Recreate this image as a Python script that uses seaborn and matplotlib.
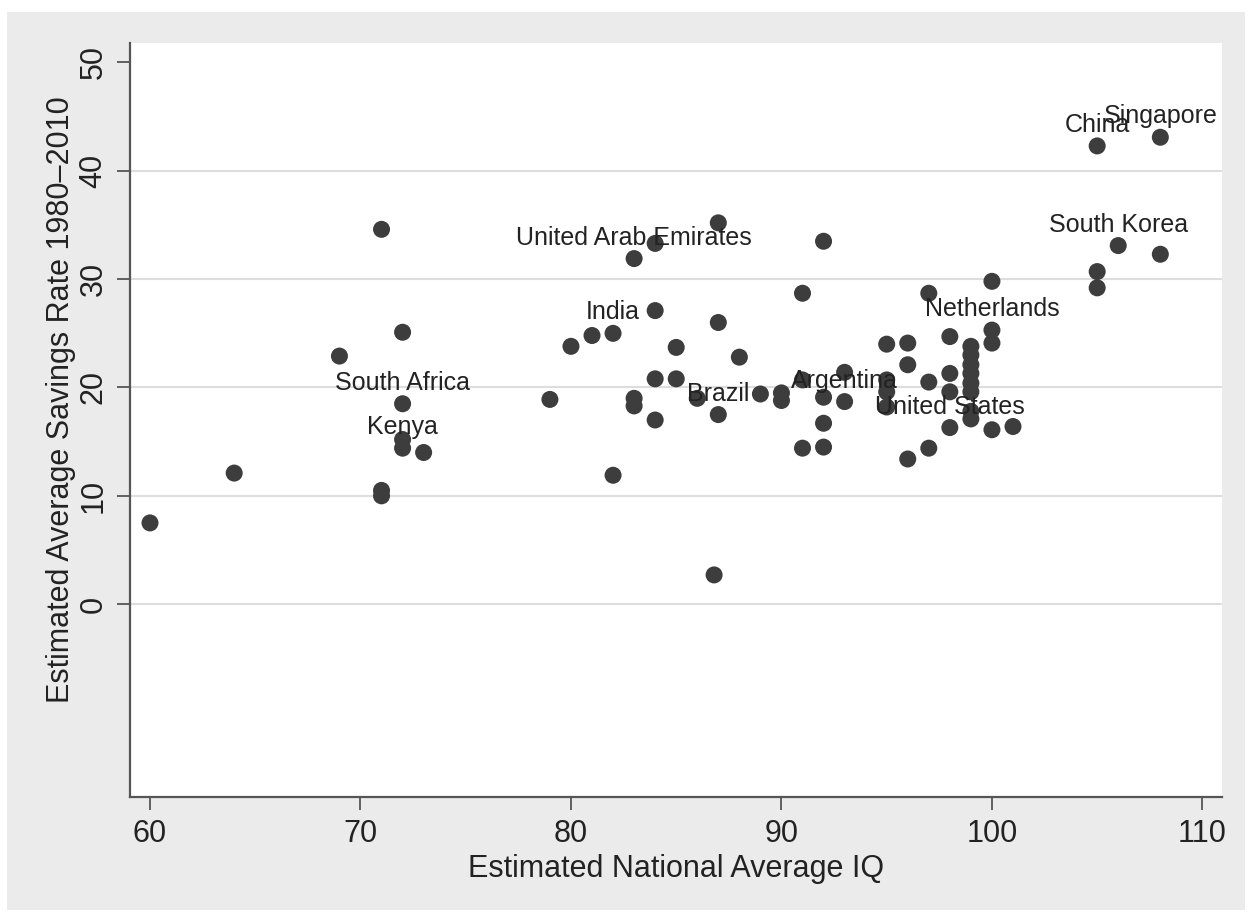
import matplotlib
matplotlib.use("Agg")
import matplotlib.pyplot as plt
import seaborn as sns
import pandas as pd
from matplotlib.patches import Rectangle

# --- dados ---
iq = [60, 64, 69, 71, 71, 71, 72, 72, 72, 72, 73,
      79, 80, 81, 82, 82, 83, 83, 83, 84, 84, 84, 84,
      85, 85, 86, 86.8, 87, 87, 87, 88, 89, 90, 90,
      91, 91, 91, 92, 92, 92, 92, 93, 93,
      95, 95, 95, 95, 96, 96, 96, 97, 97, 97,
      98, 98, 98, 98,
      99, 99, 99, 99, 99, 99, 99, 99,
      100, 100, 100, 100, 101,
      105, 105, 105, 106, 108, 108]
savings = [7.5, 12.1, 22.9, 34.6, 10.5, 10.0, 25.1, 18.5, 15.2, 14.4, 14.0,
           18.9, 23.8, 24.8, 25.0, 11.9, 31.9, 19.0, 18.3, 33.3, 27.1, 20.8, 17.0,
           23.7, 20.8, 19.0, 2.7, 35.2, 26.0, 17.5, 22.8, 19.4, 19.5, 18.8,
           20.7, 28.7, 14.4, 33.5, 19.1, 16.7, 14.5, 21.4, 18.7,
           24.0, 20.7, 19.6, 18.2, 24.1, 22.1, 13.4, 28.7, 20.5, 14.4,
           24.7, 21.3, 19.6, 16.3,
           23.8, 23.0, 22.1, 21.3, 20.4, 19.6, 17.8, 17.1,
           29.8, 25.3, 24.1, 16.1, 16.4,
           42.3, 30.7, 29.2, 33.1, 43.1, 32.3]

label_names = ["Singapore", "China", "South Korea", "Netherlands", "United States",
               "Argentina", "Brazil", "India", "United Arab Emirates",
               "South Africa", "Kenya"]
label_iq = [108, 105, 106, 100, 98, 93, 87, 82, 83, 72, 72]
label_savings = [43.1, 42.3, 33.1, 25.3, 16.3, 18.7, 17.5, 25.0, 31.9, 18.5, 14.4]

y_ticks = [0, 10, 20, 30, 40, 50]
x_ticks = [60, 70, 80, 90, 100, 110]

df = pd.DataFrame({"iq": iq, "savings": savings})

sns.set_theme(style="white")
plt.rcParams["font.family"] = ["Liberation Sans", "DejaVu Sans"]

fig = plt.figure(figsize=(12.5, 9.15), dpi=100)
fig.patch.set_facecolor("white")
fig.patches.append(Rectangle((7 / 1250, 1 - 910 / 915), (1245 - 7) / 1250, (910 - 12) / 915,
                             transform=fig.transFigure, facecolor="#ebebeb",
                             edgecolor="none", zorder=-10))
ax = fig.add_axes([130 / 1250, 1 - 797 / 915, (1222 - 130) / 1250, (797 - 43) / 915])
ax.set_facecolor("white")

sns.scatterplot(data=df, x="iq", y="savings", ax=ax, color="#3d3d3d",
                s=150, edgecolor="none", linewidth=0, zorder=3)

# rótulos dos países (acima do ponto, como no Stata)
for name, xv, yv in zip(label_names, label_iq, label_savings):
    ax.annotate(name, (xv, yv), xytext=(0, 15), textcoords="offset points",
                ha="center", va="center", fontsize=18, color="#222222", zorder=4)

ax.set_xlim(59.05, 110.93)
ax.set_ylim(-17.8, 51.8)
ax.set_xticks(x_ticks)
ax.set_yticks(y_ticks)
for g in y_ticks[:-1]:
    ax.axhline(g, color="#dddddd", linewidth=1.5, zorder=1)

for side in ["top", "right"]:
    ax.spines[side].set_visible(False)
for side in ["left", "bottom"]:
    ax.spines[side].set_color("#555555")
    ax.spines[side].set_linewidth(1.6)

ax.tick_params(axis="both", which="major", direction="out", length=9.5, width=1.3,
               color="#555555", labelsize=22, labelcolor="#222222",
               left=True, bottom=True)
ax.tick_params(axis="x", pad=6.5)
ax.tick_params(axis="y", pad=6)
plt.setp(ax.get_yticklabels(), rotation=90, va="center")

ax.set_xlabel("Estimated National Average IQ", fontsize=22, color="#222222")
ax.set_ylabel("Estimated Average Savings Rate 1980\u20132010", fontsize=22,
              color="#222222")
ax.xaxis.set_label_coords(0.5, -0.075)
ax.yaxis.set_label_coords(-0.049, 0.5265)

fig.savefig("out.png", dpi=100, facecolor=fig.get_facecolor())
